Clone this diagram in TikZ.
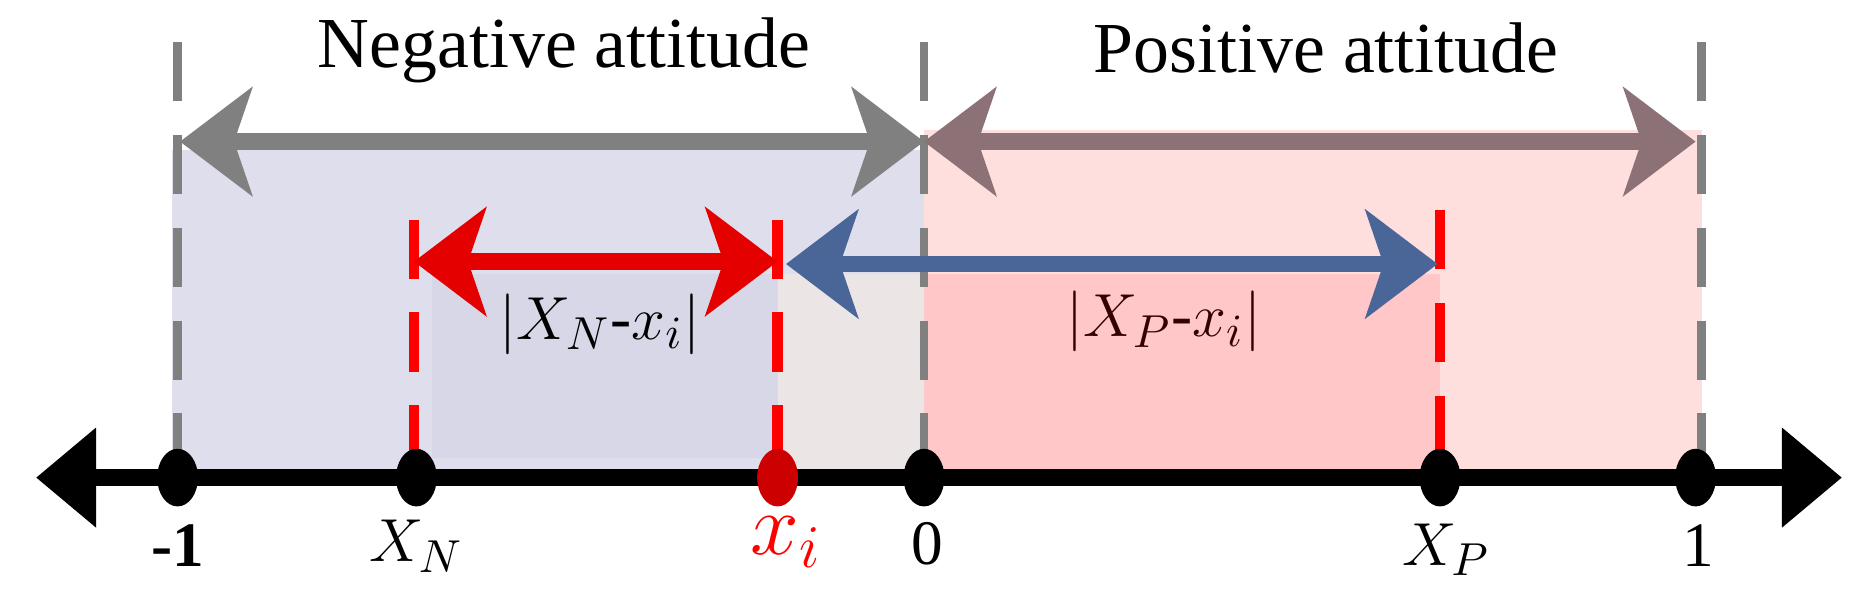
\documentclass[tikz,border=0pt]{standalone}
\usepackage{fontspec}
\setmainfont{Liberation Serif}
\usetikzlibrary{arrows.meta,shapes.geometric}
\definecolor{barrow}{HTML}{4A6597}
\definecolor{parrow}{HTML}{8C7276}
\begin{document}
\begin{tikzpicture}[x=0.01cm,y=-0.01cm,
  dot/.style={ellipse,minimum width=0.34cm,minimum height=0.48cm,inner sep=0pt,fill=black},
  gdash/.style={draw=gray,line width=2pt,dash pattern=on 14pt off 8pt},
  rdash/.style={draw=red,line width=2.5pt,dash pattern=on 14pt off 8pt},
  big/.style={line width=4pt,{Stealth[length=0.6cm,width=0.9cm,inset=0.15cm]}-{Stealth[length=0.6cm,width=0.9cm,inset=0.15cm]}},
  lab/.style={font=\fontsize{15}{17}\selectfont},
  ttl/.style={font=\fontsize{17}{19}\selectfont}]
\useasboundingbox (0,0) rectangle (1550,497);
\fill[fill=blue!30!gray!20] (143,125) rectangle (770,398);
\fill[fill=red!13] (770,108) rectangle (1418,398);
\fill[fill=blue!25!gray!25] (360,228) rectangle (648,382);
\fill[fill=red!12!gray!18] (648,228) rectangle (770,398);
\fill[fill=red!22] (770,228) rectangle (1200,398);
\node[ttl] (tn) at (470,42) {Negative attitude};
\node[ttl] (tp) at (1105,40) {Positive attitude};
\coordinate (axl) at (30,398); \coordinate (axr) at (1535,398);
\draw[line width=4pt,{Triangle[length=0.5cm,width=0.8cm]}-{Triangle[length=0.5cm,width=0.8cm]}] (axl) -- (axr);
\coordinate (gt1) at (148,35); \coordinate (gt2) at (770,35); \coordinate (gt3) at (1418,35);
\coordinate (gb1) at (148,398); \coordinate (gb2) at (770,398); \coordinate (gb3) at (1418,398);
\draw[gdash] (gt1) -- (gb1); \draw[gdash] (gt2) -- (gb2); \draw[gdash] (gt3) -- (gb3);
\coordinate (ga1) at (150,118); \coordinate (ga2) at (770,118); \coordinate (ga3) at (1413,118);
\draw[big,draw=gray,fill=gray] (ga1) -- (ga2);
\draw[big,draw=parrow,fill=parrow] (ga2) -- (ga3);
\coordinate (r1t) at (345,183); \coordinate (r2t) at (648,183); \coordinate (r3t) at (1200,175);
\draw[rdash] (r1t) -- (345,398); \draw[rdash] (r2t) -- (648,398); \draw[rdash] (r3t) -- (1200,398);
\coordinate (ra1) at (345,218); \coordinate (ra2) at (648,218);
\draw[big,draw=red!90!black,fill=red!90!black] (ra1) -- (ra2);
\coordinate (ba1) at (655,220); \coordinate (ba2) at (1198,220);
\draw[big,draw=barrow,fill=barrow] (ba1) -- (ba2);
\node[lab] (dn) at (500,270) {$|X_N\mbox{-}x_i|$};
\node[lab,text=black!80!red] (dp) at (970,268) {$|X_P\mbox{-}x_i|$};
\node[dot] (pm1) at (148,398) {};
\node[dot] (pxn) at (347,398) {};
\node[dot,fill=red!80!black] (pxi) at (648,398) {};
\node[dot] (p0) at (770,398) {};
\node[dot] (pxp) at (1200,398) {};
\node[dot] (p1) at (1413,398) {};
\node[font=\bfseries\fontsize{15}{17}\selectfont] (lm1) at (148,455) {-1};
\node[lab] (lxn) at (347,455) {$X_N$};
\node[text=red,font=\fontsize{21}{23}\selectfont] (lxi) at (655,452) {$x_i$};
\node[lab] (l0) at (773,453) {0};
\node[lab] (lxp) at (1205,458) {$X_P$};
\node[lab] (l1) at (1415,455) {1};
\end{tikzpicture}
\end{document}
